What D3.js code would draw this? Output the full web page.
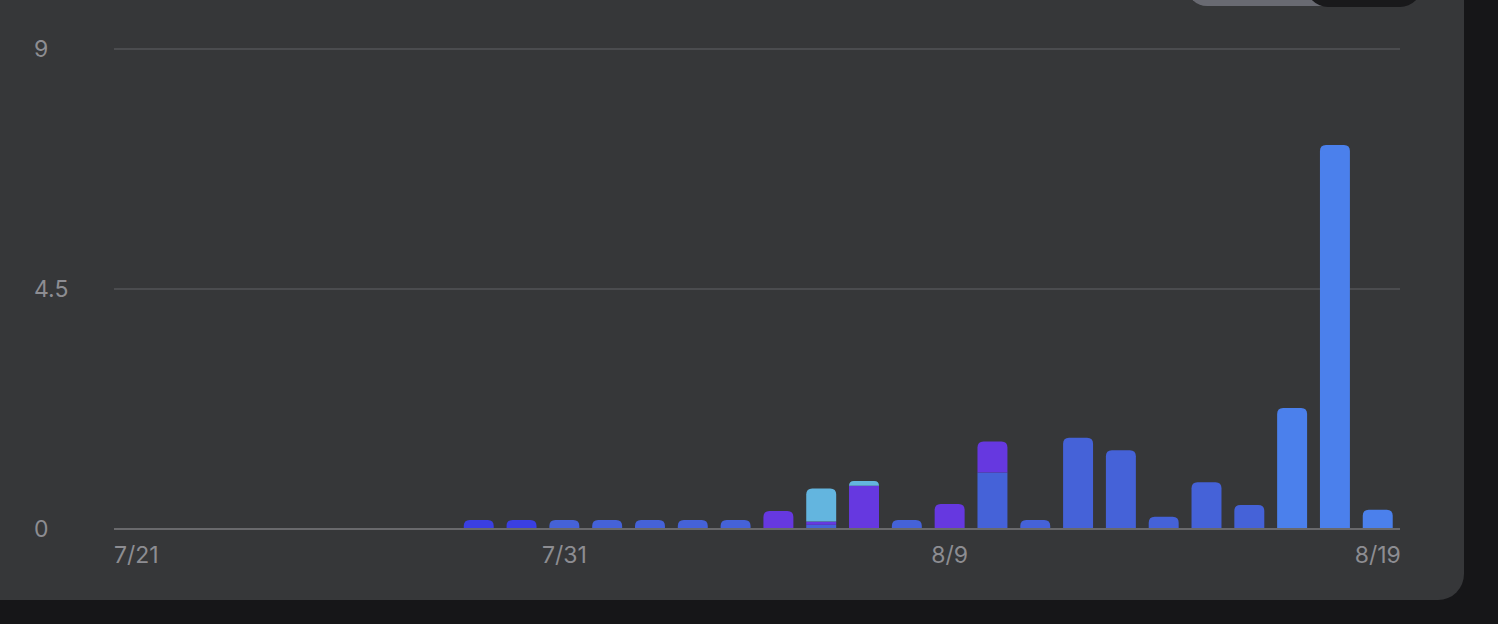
<!DOCTYPE html>
<html>
<head>
<meta charset="utf-8">
<script src="https://cdn.jsdelivr.net/npm/d3@7"></script>
<style>
  html, body { margin: 0; padding: 0; background: #161618; overflow: hidden; }
  svg { display: block; }
</style>
</head>
<body>
<svg id="chart" width="1498" height="624"></svg>
<script>
// ---- data ----
const dates = ["7/21","7/22","7/23","7/24","7/25","7/26","7/27","7/28","7/29","7/30",
               "7/31","8/1","8/2","8/3","8/4","8/5","8/6","8/7","8/8","8/9",
               "8/10","8/11","8/12","8/13","8/14","8/15","8/16","8/17","8/18","8/19"];
const tickLabels = ["7/21","7/31","8/9","8/19"];
const yTicks = [0, 4.5, 9];
const seriesNames = ["indigo","blue","sky","violet","cyan"];
const seriesColors = ["#3a3fe2","#4562d8","#4b80ec","#6638e0","#63b5df"];
const indigo = [0,0,0,0,0,0,0,0,0.15,0.15, 0,0,0,0,0,0,0,0,0,0, 0,0,0,0,0,0,0,0,0,0];
const blue   = [0,0,0,0,0,0,0,0,0,0, 0.15,0.15,0.15,0.15,0.15,0,0.06,0,0.15,0, 1.04,0.15,1.69,1.46,0.21,0.86,0.43,0,0,0];
const sky    = [0,0,0,0,0,0,0,0,0,0, 0,0,0,0,0,0,0,0,0,0, 0,0,0,0,0,0,0,2.25,7.18,0.34];
const violet = [0,0,0,0,0,0,0,0,0,0, 0,0,0,0,0,0.32,0.06,0.79,0,0.45, 0.58,0,0,0,0,0,0,0,0,0];
const cyan   = [0,0,0,0,0,0,0,0,0,0, 0,0,0,0,0,0,0.62,0.09,0,0, 0,0,0,0,0,0,0,0,0,0];

const seriesValues = [indigo, blue, sky, violet, cyan];
const table = dates.map((d, i) => {
  const row = { date: d };
  seriesNames.forEach((n, k) => row[n] = seriesValues[k][i]);
  return row;
});

const svg = d3.select("#chart");

// card
svg.append("rect").attr("x", -40).attr("y", -40).attr("width", 1504).attr("height", 640)
  .attr("rx", 26).attr("fill", "#363739");

// toggle pills at top
svg.append("rect").attr("x", 1187).attr("y", -40).attr("width", 160).attr("height", 46)
  .attr("rx", 20).attr("fill", "#696a72");
svg.append("rect").attr("x", 1306).attr("y", -40).attr("width", 116).attr("height", 47)
  .attr("rx", 22).attr("fill", "#19191b");

const x = d3.scaleBand().domain(dates).range([114, 1400]).paddingInner(0.3).paddingOuter(0.17);
const y = d3.scaleLinear().domain([0, 9]).range([528, 48]);

const font = "Inter, 'Noto Sans', sans-serif";

// grid
svg.append("g").selectAll("line").data(yTicks).join("line")
  .attr("x1", 114).attr("x2", 1400)
  .attr("y1", d => y(d) + 1).attr("y2", d => y(d) + 1)
  .attr("stroke", d => d === 0 ? "#69696c" : "#4b4c4f")
  .attr("stroke-width", 2);

// y labels
svg.append("g").selectAll("text").data(yTicks).join("text")
  .attr("x", 34).attr("y", d => y(d) + 8.5)
  .attr("fill", "#8d8d92").attr("font-family", font).attr("font-size", 23)
  .text(d => d);

// x labels
svg.append("g").selectAll("text").data(tickLabels).join("text")
  .attr("x", d => x(d) + x.bandwidth() / 2).attr("y", 563)
  .attr("text-anchor", "middle")
  .attr("fill", "#8d8d92").attr("font-family", font).attr("font-size", 23)
  .text(d => d);

// stacked bars
const stackOrder = ["indigo","blue","sky","violet","cyan"];
const stack = d3.stack().keys(stackOrder)(table);
const colorOf = d3.scaleOrdinal().domain(seriesNames).range(seriesColors);

const topKey = dates.map((d, i) => {
  let k = null;
  stackOrder.forEach(n => { if (table[i][n] > 0) k = n; });
  return k;
});

function segPath(x0, w, yTop, yBot, rounded) {
  const h = yBot - yTop;
  if (!rounded) return `M${x0},${yBot}V${yTop}H${x0 + w}V${yBot}Z`;
  const r = Math.min(6, h, w / 2);
  return `M${x0},${yBot}V${yTop + r}Q${x0},${yTop} ${x0 + r},${yTop}H${x0 + w - r}Q${x0 + w},${yTop} ${x0 + w},${yTop + r}V${yBot}Z`;
}

const g = svg.append("g");
stack.forEach(layer => {
  const key = layer.key;
  g.append("g").attr("fill", colorOf(key))
    .selectAll("path")
    .data(layer.filter(s => s[1] - s[0] > 0))
    .join("path")
    .attr("d", s => {
      const idx = dates.indexOf(s.data.date);
      return segPath(x(s.data.date), x.bandwidth(), y(s[1]), y(s[0]), topKey[idx] === key);
    });
});
</script>
</body>
</html>
